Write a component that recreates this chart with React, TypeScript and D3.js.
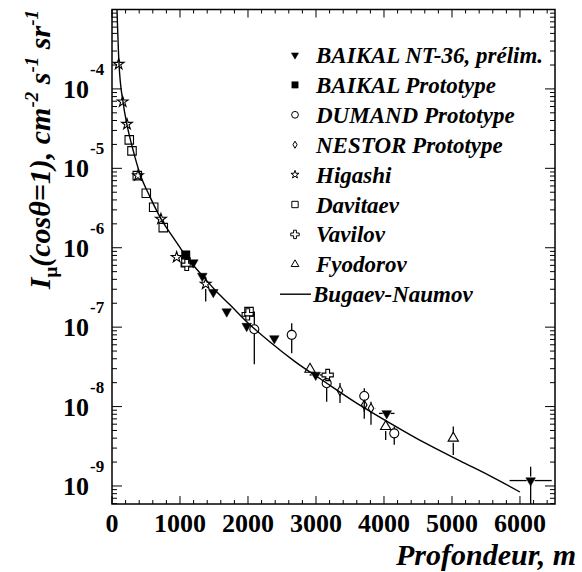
import React from "react";
import * as d3 from "d3";

const W = 582;
const H = 572;
const LEFT = 112;
const RIGHT = 555;
const TOP = 9.5;
const BOTTOM = 504;

const FONT = "'Liberation Serif', 'Times New Roman', serif";

// axis ticks
const xMajorTicks = [0, 1000, 2000, 3000, 4000, 5000, 6000];
const xTickLabels = ["0", "1000", "2000", "3000", "4000", "5000", "6000"];
const yExponents = [-4, -5, -6, -7, -8, -9];
const yExponentLabels = ["-4", "-5", "-6", "-7", "-8", "-9"];

// BAIKAL NT-36, prélim. (filled triangle down)
const baikalDepth = [1196, 1328, 1490, 1687, 1981, 2387, 2996, 4040, 6157];
const baikalFlux = [6.5e-7, 4.4e-7, 2.75e-7, 1.57e-7, 1.03e-7, 7.2e-8, 2.5e-8, 8.2e-9, 1.17e-9];
const baikalFluxHi = [0, 0, 0, 0, 0, 0, 0, 0, 1.74e-9];
const baikalFluxLo = [0, 0, 0, 0, 0, 0, 0, 0, 4.0e-10];
const baikalDepthErr = [0, 0, 0, 0, 0, 0, 90, 115, 310];

// BAIKAL Prototype (filled square)
const protoDepth = [1084];
const protoFlux = [8.1e-7];

// DUMAND Prototype (open circle)
const dumandDepth = [2093, 2643, 3157, 3710, 4151];
const dumandFlux = [9.4e-8, 8.0e-8, 1.97e-8, 1.36e-8, 4.6e-9];
const dumandFluxHi = [1.57e-7, 1.12e-7, 0, 1.7e-8, 5.6e-9];
const dumandFluxLo = [3.4e-8, 4.7e-8, 1.15e-8, 8.6e-9, 3.3e-9];

// NESTOR Prototype (open diamond)
const nestorDepth = [3353, 3710, 3809];
const nestorFlux = [1.58e-8, 1.05e-8, 9.5e-9];
const nestorFluxHi = [1.98e-8, 0, 1.15e-8];
const nestorFluxLo = [1.11e-8, 7.0e-9, 5.9e-9];
const nestorDepthErr = [0, 0, 70];

// Higashi (open star)
const higashiDepth = [98, 157, 220, 382, 720, 951, 1378];
const higashiFlux = [2.05e-4, 6.9e-5, 3.6e-5, 8.1e-6, 2.3e-6, 7.6e-7, 3.5e-7];
const higashiFluxHi = [0, 0, 0, 0, 0, 0, 4.3e-7];
const higashiFluxLo = [0, 0, 0, 0, 0, 0, 2.1e-7];

// Davitaev (open square)
const davitaevDepth = [254, 294, 372, 504, 613, 754, 1088, 2015];
const davitaevFlux = [2.28e-5, 1.66e-5, 8.1e-6, 4.85e-6, 3.24e-6, 1.79e-6, 6.6e-7, 1.57e-7];

// Vavilov (open cross)
const vavilovDepth = [1099, 1996, 3172];
const vavilovFlux = [6.07e-7, 1.45e-7, 2.5e-8];

// Fyodorov (open triangle up)
const fyodorovDepth = [2912, 4025, 5019];
const fyodorovFlux = [2.95e-8, 5.6e-9, 4.0e-9];
const fyodorovFluxHi = [0, 6.8e-9, 5.6e-9];
const fyodorovFluxLo = [0, 3.8e-9, 2.45e-9];

// Bugaev-Naumov curve
const curveDepth = [73, 103, 162, 221, 309, 412, 559, 721, 926, 1074, 1294, 1515, 1735, 2000, 2324, 2691, 3132, 3574, 4088, 4603, 5118, 5559, 6000];
const curveFlux = [1.02e-3, 2.07e-4, 6.85e-5, 3.52e-5, 1.71e-5, 8.5e-6, 4.37e-6, 2.31e-6, 1.25e-6, 8.1e-7, 4.82e-7, 2.94e-7, 1.91e-7, 1.13e-7, 6.5e-8, 3.68e-8, 2.04e-8, 1.14e-8, 6.2e-9, 3.48e-9, 2.07e-9, 1.34e-9, 8.4e-10];

const legendLabels = [
  "BAIKAL NT-36, prélim.",
  "BAIKAL Prototype",
  "DUMAND Prototype",
  "NESTOR Prototype",
  "Higashi",
  "Davitaev",
  "Vavilov",
  "Fyodorov",
  "Bugaev-Naumov",
];

const x = d3.scaleLinear().domain([0, 6515]).range([LEFT, RIGHT]);
const y = d3.scaleLog().domain([5.93e-10, 1e-3]).range([BOTTOM, TOP]);

type Kind = "triDown" | "squareFilled" | "circle" | "diamond" | "star" | "square" | "cross" | "triUp";

const symbolPath = (kind: Kind, scale: number): string => {
  const s = scale;
  switch (kind) {
    case "triDown":
      return d3.symbol(d3.symbolTriangle, 40 * s * s)()!;
    case "triUp":
      return d3.symbol(d3.symbolTriangle, 46 * s * s)()!;
    case "squareFilled":
    case "square":
      return d3.symbol(d3.symbolSquare, 72 * s * s)()!;
    case "circle":
      return d3.symbol(d3.symbolCircle, 64 * s * s)()!;
    case "diamond":
      return d3.symbol(d3.symbolDiamond, 26 * s * s)()!;
    case "star":
      return d3.symbol(d3.symbolStar, 36 * s * s)()!;
    case "cross":
      return d3.symbol(d3.symbolCross, 70 * s * s)()!;
  }
};

const isFilled = (k: Kind) => k === "triDown" || k === "squareFilled";
const halfSize: Record<Kind, number> = {
  triDown: 4, squareFilled: 4.3, circle: 4.5, diamond: 4.5, star: 5, square: 4.3, cross: 5, triUp: 4.5,
};

interface Series {
  kind: Kind;
  depth: number[];
  flux: number[];
  hi?: number[];
  lo?: number[];
  dErr?: number[];
}

const series: Series[] = [
  { kind: "square", depth: davitaevDepth, flux: davitaevFlux },
  { kind: "star", depth: higashiDepth, flux: higashiFlux, hi: higashiFluxHi, lo: higashiFluxLo },
  { kind: "squareFilled", depth: protoDepth, flux: protoFlux },
  { kind: "cross", depth: vavilovDepth, flux: vavilovFlux },
  { kind: "circle", depth: dumandDepth, flux: dumandFlux, hi: dumandFluxHi, lo: dumandFluxLo },
  { kind: "diamond", depth: nestorDepth, flux: nestorFlux, hi: nestorFluxHi, lo: nestorFluxLo, dErr: nestorDepthErr },
  { kind: "triUp", depth: fyodorovDepth, flux: fyodorovFlux, hi: fyodorovFluxHi, lo: fyodorovFluxLo },
  { kind: "triDown", depth: baikalDepth, flux: baikalFlux, hi: baikalFluxHi, lo: baikalFluxLo, dErr: baikalDepthErr },
];

const legendKinds: Kind[] = ["triDown", "squareFilled", "circle", "diamond", "star", "square", "cross", "triUp"];

export default function App() {
  const line = d3
    .line<number>()
    .x((_, i) => x(curveDepth[i]))
    .y((d) => y(d))
    .curve(d3.curveMonotoneX);

  const xMinor = d3.range(0, 6600, 200).filter((v) => v % 1000 !== 0 && x(v) < RIGHT);
  const yMinor: number[] = [];
  for (let e = -10; e <= -4; e++) {
    for (let k = 2; k <= 9; k++) {
      const v = k * Math.pow(10, e);
      if (y(v) <= BOTTOM && y(v) >= TOP) yMinor.push(v);
    }
  }
  const yMajor = [-9, -8, -7, -6, -5, -4, -3].map((e) => Math.pow(10, e));

  return (
    <svg width={W} height={H} style={{ display: "block", position: "absolute", left: 0, top: 0 }}>
      <rect width={W} height={H} fill="#fff" />
      <defs>
        <clipPath id="frame">
          <rect x={LEFT} y={TOP} width={RIGHT - LEFT} height={BOTTOM - TOP} />
        </clipPath>
      </defs>

      {/* ticks */}
      <g stroke="#000" strokeWidth={1}>
        {xMajorTicks.map((v) => (
          <g key={"xm" + v}>
            <line x1={x(v)} x2={x(v)} y1={BOTTOM} y2={BOTTOM - 8} />
            <line x1={x(v)} x2={x(v)} y1={TOP} y2={TOP + 8} />
          </g>
        ))}
        {xMinor.map((v) => (
          <g key={"xn" + v}>
            <line x1={x(v)} x2={x(v)} y1={BOTTOM} y2={BOTTOM - 4} />
            <line x1={x(v)} x2={x(v)} y1={TOP} y2={TOP + 4} />
          </g>
        ))}
        {yMajor.map((v, i) => (
          <g key={"ym" + i}>
            <line x1={LEFT} x2={LEFT + 10} y1={y(v)} y2={y(v)} />
            <line x1={RIGHT} x2={RIGHT - 10} y1={y(v)} y2={y(v)} />
          </g>
        ))}
        {yMinor.map((v, i) => (
          <g key={"yn" + i}>
            <line x1={LEFT} x2={LEFT + 5} y1={y(v)} y2={y(v)} />
            <line x1={RIGHT} x2={RIGHT - 5} y1={y(v)} y2={y(v)} />
          </g>
        ))}
      </g>

      <rect x={LEFT} y={TOP} width={RIGHT - LEFT} height={BOTTOM - TOP} fill="none" stroke="#000" strokeWidth={1.5} />

      {/* tick labels */}
      <g fontFamily={FONT} fontWeight="bold" fill="#000">
        {xMajorTicks.map((v, i) => (
          <text key={"xl" + v} x={x(v)} y={532} fontSize={26} textAnchor="middle">
            {xTickLabels[i]}
          </text>
        ))}
        {yExponents.map((e, i) => (
          <g key={"yl" + e}>
            <text x={89} y={y(Math.pow(10, e)) + 9} fontSize={26} textAnchor="end">10</text>
            <text x={90} y={y(Math.pow(10, e)) - 14} fontSize={17} textAnchor="start">{yExponentLabels[i]}</text>
          </g>
        ))}
      </g>

      {/* axis titles */}
      <text
        x={576}
        y={565}
        fontFamily={FONT}
        fontWeight="bold"
        fontStyle="italic"
        fontSize={30}
        textAnchor="end"
      >
        Profondeur, m
      </text>
      <text
        transform="translate(50,10) rotate(-90)"
        fontFamily={FONT}
        fontWeight="bold"
        fontStyle="italic"
        fontSize={30}
        textAnchor="end"
      >
        <tspan>I</tspan>
        <tspan fontSize={19} fontStyle="normal" dy={7}>μ</tspan>
        <tspan dy={-7}>(cosθ=1), cm</tspan>
        <tspan fontSize={19} dy={-12}>-2</tspan>
        <tspan dy={12}> s</tspan>
        <tspan fontSize={19} dy={-12}>-1</tspan>
        <tspan dy={12}> sr</tspan>
        <tspan fontSize={19} dy={-12}>-1</tspan>
      </text>

      {/* curve + data */}
      <g clipPath="url(#frame)">
        <path d={line(curveFlux) ?? ""} fill="none" stroke="#000" strokeWidth={1.4} />
        {series.map((s, si) => (
          <g key={"s" + si}>
            {s.depth.map((d, i) => {
              const cx = x(d);
              const cy = y(s.flux[i]);
              const hs = halfSize[s.kind];
              const els: React.ReactNode[] = [];
              if (s.hi && s.hi[i]) {
                els.push(<line key="h" x1={cx} x2={cx} y1={y(s.hi[i])} y2={cy - hs} stroke="#000" strokeWidth={1.3} />);
              }
              if (s.lo && s.lo[i]) {
                els.push(<line key="l" x1={cx} x2={cx} y1={cy + hs} y2={y(s.lo[i])} stroke="#000" strokeWidth={1.3} />);
              }
              if (s.dErr && s.dErr[i]) {
                els.push(<line key="dl" x1={x(d - s.dErr[i])} x2={cx - hs} y1={cy} y2={cy} stroke="#000" strokeWidth={1.3} />);
                els.push(<line key="dr" x1={cx + hs} x2={x(d + s.dErr[i])} y1={cy} y2={cy} stroke="#000" strokeWidth={1.3} />);
              }
              const rot = s.kind === "triDown" ? " rotate(180)" : "";
              els.push(
                <path
                  key="m"
                  d={symbolPath(s.kind, 1)}
                  transform={`translate(${cx},${cy})${rot}`}
                  fill={isFilled(s.kind) ? "#000" : "none"}
                  stroke="#000"
                  strokeWidth={isFilled(s.kind) ? 0.5 : 1.1}
                />
              );
              return <g key={i}>{els}</g>;
            })}
          </g>
        ))}
      </g>

      {/* legend */}
      <g fontFamily={FONT} fontWeight="bold" fontStyle="italic" fontSize={23}>
        {legendLabels.map((lab, i) => {
          const ly = 55 + i * 29.9;
          const kind = legendKinds[i];
          return (
            <g key={"lg" + i}>
              {kind ? (
                <path
                  d={symbolPath(kind, 0.75)}
                  transform={`translate(295,${ly})${kind === "triDown" ? " rotate(180)" : ""}`}
                  fill={isFilled(kind) ? "#000" : "none"}
                  stroke="#000"
                  strokeWidth={isFilled(kind) ? 0.5 : 1}
                />
              ) : (
                <line x1={280} x2={311} y1={ly} y2={ly} stroke="#000" strokeWidth={1.4} />
              )}
              <text x={kind ? 316 : 313} y={ly + 8}>{lab}</text>
            </g>
          );
        })}
      </g>
    </svg>
  );
}
